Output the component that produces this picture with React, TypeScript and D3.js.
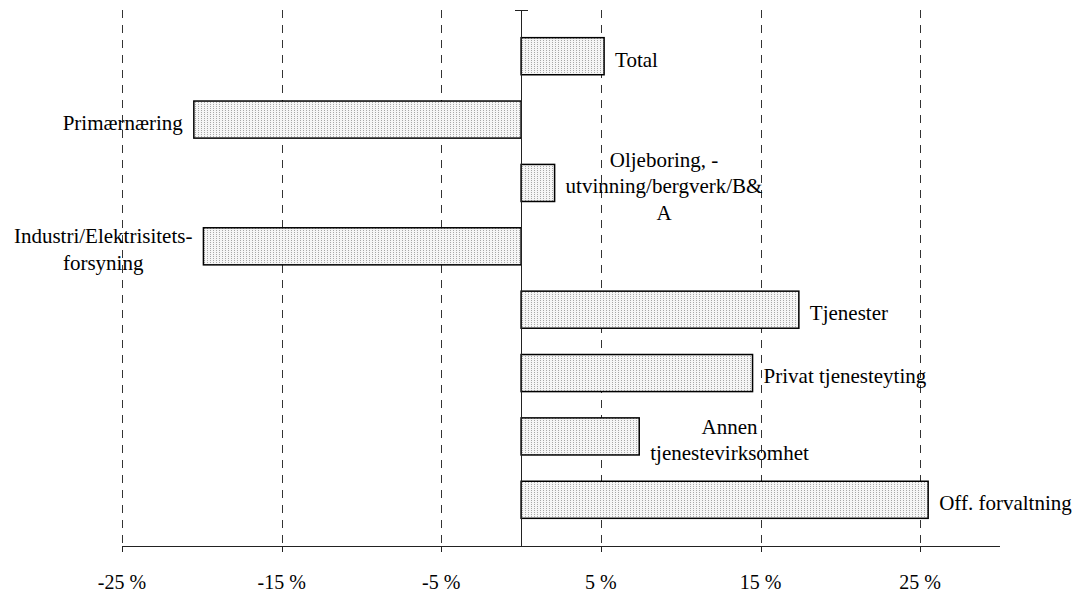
import React, { useEffect, useRef } from "react";
import * as d3 from "d3";

const categories = [
  "Total",
  "Primærnæring",
  "Oljeboring, -\nutvinning/bergverk/B&\nA",
  "Industri/Elektrisitets-\nforsyning",
  "Tjenester",
  "Privat tjenesteyting",
  "Annen\ntjenestevirksomhet",
  "Off. forvaltning",
];
const values = [5.2, -20.5, 2.1, -19.9, 17.4, 14.5, 7.4, 25.5];
const tickValues = [-25, -15, -5, 5, 15, 25];

const W = 1076;
const H = 596;

export default function App() {
  const ref = useRef<SVGSVGElement>(null);
  useEffect(() => {
    const svg = d3.select(ref.current);
    svg.selectAll("*").remove();
    const font = "'Liberation Serif', 'Times New Roman', serif";
    const fs = 21;
    const x = d3.scaleLinear().domain([-25, 30]).range([122, 1000]);
    const y = d3
      .scaleBand<string>()
      .domain(categories)
      .range([25, 531])
      .paddingInner(0.415)
      .paddingOuter(0.2);
    const top = 10;
    const bottom = 546;

    const defs = svg.append("defs");
    const pat = defs
      .append("pattern")
      .attr("id", "dots")
      .attr("width", 3)
      .attr("height", 2)
      .attr("patternUnits", "userSpaceOnUse");
    pat.append("rect").attr("width", 3).attr("height", 2).attr("fill", "#f6f6f6");
    pat.append("rect").attr("x", 0).attr("y", 0).attr("width", 1).attr("height", 1).attr("fill", "#a8a8a8");

    // gridlines
    svg
      .append("g")
      .selectAll("line")
      .data(tickValues)
      .join("line")
      .attr("x1", (d) => Math.round(x(d)) + 0.5)
      .attr("x2", (d) => Math.round(x(d)) + 0.5)
      .attr("y1", top)
      .attr("y2", bottom)
      .attr("stroke", "#333")
      .attr("stroke-width", 1)
      .attr("stroke-dasharray", "8,7");

    // bars
    svg
      .append("g")
      .selectAll("rect")
      .data(values)
      .join("rect")
      .attr("x", (d) => Math.min(x(0), x(d)))
      .attr("y", (_d, i) => y(categories[i])!)
      .attr("width", (d) => Math.abs(x(d) - x(0)))
      .attr("height", y.bandwidth())
      .attr("fill", "url(#dots)")
      .attr("stroke", "#000")
      .attr("stroke-width", 1.5);

    // x axis
    const x0 = Math.round(x(0)) + 0.5;
    svg
      .append("line")
      .attr("x1", x(-25))
      .attr("x2", x(30))
      .attr("y1", bottom + 0.5)
      .attr("y2", bottom + 0.5)
      .attr("stroke", "#222");
    svg
      .append("g")
      .selectAll("line")
      .data(tickValues)
      .join("line")
      .attr("x1", (d) => Math.round(x(d)) + 0.5)
      .attr("x2", (d) => Math.round(x(d)) + 0.5)
      .attr("y1", bottom)
      .attr("y2", bottom + 6)
      .attr("stroke", "#222");
    svg
      .append("g")
      .selectAll("text")
      .data(tickValues)
      .join("text")
      .attr("x", (d) => x(d))
      .attr("y", 582)
      .attr("dy", "0.35em")
      .attr("text-anchor", "middle")
      .attr("font-family", font)
      .attr("font-size", 20)
      .text((d) => `${d} %`);

    // y axis
    svg
      .append("line")
      .attr("x1", x0)
      .attr("x2", x0)
      .attr("y1", top)
      .attr("y2", bottom)
      .attr("stroke", "#222");
    svg
      .append("line")
      .attr("x1", x0 - 6.5)
      .attr("x2", x0 + 6.5)
      .attr("y1", top + 0.5)
      .attr("y2", top + 0.5)
      .attr("stroke", "#222");

    // labels
    const lineH = 26.5;
    categories.forEach((c, i) => {
      const lines = c.split("\n");
      const v = values[i];
      const cy = y(c)! + y.bandwidth() / 2 + 3;
      const g = svg.append("g");
      const texts = lines.map((l, k) =>
        g
          .append("text")
          .attr("y", cy + (k - (lines.length - 1) / 2) * lineH)
          .attr("dy", "0.35em")
          .attr("text-anchor", "middle")
          .attr("font-family", font)
          .attr("font-size", fs)
          .text(l)
      );
      const maxW = d3.max(texts, (t) => (t.node() as SVGTextElement).getComputedTextLength()) || 0;
      const gap = 11;
      const cx = v >= 0 ? x(v) + gap + maxW / 2 : x(v) - gap - maxW / 2;
      texts.forEach((t) => t.attr("x", cx));
    });
  }, []);
  return (
    <svg ref={ref} width={W} height={H} style={{ display: "block", position: "absolute", left: 0, top: 0, background: "#fff" }} />
  );
}
